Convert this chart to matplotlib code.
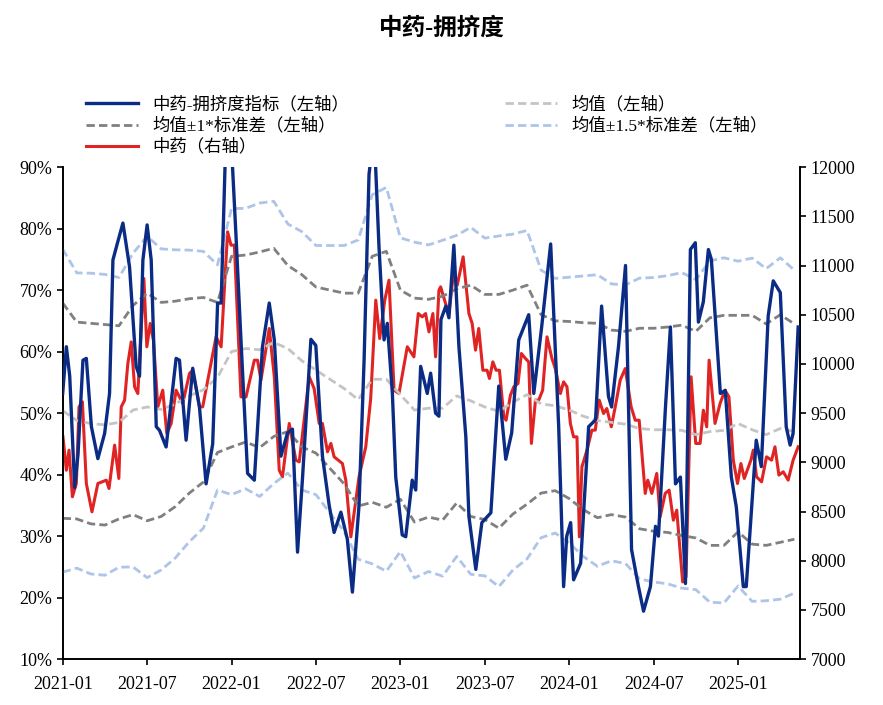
import matplotlib.pyplot as plt
import numpy as np
from matplotlib.ticker import FuncFormatter

plt.rcParams["font.family"] = ["Liberation Serif", "Noto Sans CJK SC"]

# x positions are months since 2021-01
idx_month = [0, 0.26, 0.5, 0.85, 1.09, 1.44, 1.68, 2.04, 2.5, 2.98, 3.33, 3.57, 3.92, 4.28, 4.75, 5.22,
             5.46, 5.7, 6.0, 6.29, 6.65, 6.88, 7.35, 8.06, 8.3, 8.77, 9.24, 9.72, 10.19, 10.66, 11.01,
             11.26, 11.61, 11.96, 12.32, 12.67, 13.14, 13.62, 14.2, 14.68, 15.04, 15.51, 15.98, 16.33,
             16.69, 17.04, 17.64, 17.99, 18.46, 18.94, 19.29, 19.77, 20.23, 20.59, 21.06, 21.42, 21.77,
             22.13, 22.48, 22.84, 23.07, 23.43, 23.67, 24.13, 24.38, 24.84, 25.09, 25.44, 25.91, 26.15,
             26.5, 26.74, 26.88, 27.23, 27.45, 27.8, 28.16, 28.65, 28.87, 29.36, 29.79, 30.43, 30.99,
             31.49, 31.91, 32.41, 33.12, 33.48, 34.04, 34.68, 35.25, 35.6, 35.82, 36.1, 36.31, 36.81,
             37.38, 37.87, 38.3, 38.79, 39.01, 39.5, 40.0, 40.43, 40.92, 41.28, 41.77, 42.13, 42.34,
             42.84, 43.19, 43.55, 43.9, 44.26, 44.61, 44.96, 45.18, 45.53, 45.89, 46.1, 46.74, 47.09,
             47.52, 47.87, 48.37, 48.58, 49.29, 49.65, 50.14, 50.5, 51.0, 51.42, 51.7, 51.91, 52.27]
idx_value = [53.2, 60.8, 56.0, 37.9, 43.3, 58.6, 58.9, 47.8, 42.6, 46.7, 53.2, 74.9, 77.9, 80.9, 73.8,
             57.6, 56.0, 74.9, 80.6, 74.9, 47.8, 47.2, 44.5, 58.9, 58.6, 45.6, 57.3, 51.0, 38.5, 45.0,
             67.9, 67.9, 96.0, 95.0, 78.7, 61.9, 40.2, 39.1, 60.8, 67.9, 61.9, 43.0, 46.8, 47.4, 27.4,
             39.3, 62.0, 61.0, 43.0, 35.0, 30.6, 33.9, 29.5, 20.9, 35.0, 58.6, 88.8, 96.0, 77.0, 61.9,
             64.6, 53.2, 39.6, 30.2, 29.9, 39.1, 37.5, 57.6, 53.2, 56.5, 50.0, 49.5, 65.2, 67.4, 65.5,
             77.3, 60.8, 46.2, 33.2, 24.6, 32.2, 33.8, 54.4, 42.5, 46.8, 61.9, 66.0, 53.2, 64.0, 77.5,
             47.8, 21.8, 30.0, 32.2, 22.9, 25.6, 47.8, 48.9, 67.4, 52.7, 51.0, 60.8, 74.0, 27.8, 21.8,
             17.8, 21.8, 31.6, 30.0, 51.0, 64.0, 38.5, 39.6, 22.3, 76.6, 77.7, 64.8, 68.1, 76.6, 75.0,
             53.2, 53.7, 39.6, 34.8, 21.8, 21.8, 45.6, 41.3, 65.8, 71.5, 69.6, 47.8, 44.8, 46.7, 64.0]

price_month = [0.02, 0.26, 0.45, 0.69, 0.97, 1.16, 1.4, 1.68, 2.08, 2.5, 3.1, 3.29, 3.69, 3.99, 4.16,
               4.4, 4.63, 4.87, 5.11, 5.34, 5.77, 5.98, 6.22, 6.45, 6.76, 7.11, 7.4, 7.71, 8.06, 8.53,
               9.01, 9.24, 9.72, 9.95, 10.31, 10.9, 11.26, 11.72, 11.96, 12.2, 12.67, 13.03, 13.62,
               13.85, 14.09, 14.68, 15.04, 15.39, 15.62, 16.1, 16.57, 16.81, 17.52, 17.87, 18.23, 18.46,
               18.82, 19.06, 19.29, 19.88, 20.12, 20.48, 21.06, 21.54, 21.89, 22.25, 22.53, 22.89, 23.19,
               23.55, 23.9, 24.49, 24.96, 25.27, 25.55, 25.79, 26.03, 26.31, 26.5, 26.74, 26.86, 27.21,
               27.45, 27.8, 28.04, 28.46, 28.87, 29.1, 29.34, 29.57, 29.86, 30.16, 30.33, 30.57, 30.8,
               31.04, 31.35, 31.51, 31.82, 32.06, 32.36, 32.6, 32.89, 33.12, 33.31, 33.6, 33.83, 34.11,
               34.42, 34.77, 35.01, 35.37, 35.6, 35.84, 36.08, 36.31, 36.55, 36.72, 36.9, 37.26, 37.61,
               37.85, 38.13, 38.44, 38.67, 38.99, 39.27, 39.62, 39.98, 40.4, 40.69, 40.97, 41.4, 41.58,
               41.87, 42.22, 42.46, 42.82, 43.1, 43.4, 43.64, 44.06, 44.3, 44.66, 44.99, 45.3, 45.53,
               45.77, 45.94, 46.36, 46.72, 47.07, 47.35, 47.66, 47.96, 48.2, 48.44, 48.91, 49.08, 49.31,
               49.67, 50.02, 50.38, 50.62, 50.9, 51.21, 51.56, 51.91, 52.27]
price_value = [9259, 8920, 9124, 8650, 8785, 9564, 9615, 8785, 8497, 8785, 8819, 8734, 9175, 8836, 9564,
               9632, 10004, 10224, 9767, 9699, 10868, 10174, 10411, 10241, 9564, 9733, 9293, 9395, 9733,
               9598, 9903, 9936, 9564, 9564, 9835, 10275, 10174, 11342, 11207, 11207, 9665, 9665, 10038,
               10038, 9835, 10360, 9869, 8920, 8853, 9395, 9022, 9005, 9869, 9750, 9395, 9395, 9107,
               9192, 9056, 8988, 8819, 8243, 8853, 9158, 9648, 10648, 10258, 10648, 10851, 9733, 9699,
               10174, 10072, 10512, 10478, 10512, 10326, 10512, 10072, 10749, 10783, 10614, 10512, 10953,
               10800, 11088, 10512, 10411, 10140, 10360, 9936, 9936, 9852, 10021, 9936, 9936, 9462, 9428,
               9682, 9767, 9801, 10106, 10055, 10021, 9192, 9632, 9632, 9733, 10275, 10055, 9953, 9699,
               9818, 9767, 9395, 9259, 9259, 8243, 8954, 9124, 9327, 9327, 9632, 9496, 9547, 9361, 9564,
               9835, 9953, 9564, 9428, 9428, 8684, 8819, 8684, 8887, 8446, 8684, 8718, 8412, 8514, 7785,
               7836, 9869, 9192, 9192, 9530, 9361, 10038, 9395, 9598, 9733, 9665, 9022, 8785, 8988, 8836,
               9022, 9124, 8853, 8802, 9056, 9022, 9158, 8870, 8904, 8819, 9022, 9158]

band_month = list(range(53))
mean_value = [50.4, 48.8, 48.3, 48.1, 48.5, 50.5, 51.0, 50.6, 51.5, 52.8, 53.8, 55.8, 60.0, 60.5, 60.3,
              61.5, 60.5, 58.5, 57.0, 55.5, 54.0, 52.2, 55.5, 55.5, 53.0, 50.5, 50.8, 50.8, 52.8, 52.0,
              51.0, 50.3, 51.8, 53.0, 51.5, 51.2, 50.5, 49.5, 48.8, 48.5, 48.2, 47.5, 47.3, 47.3, 47.2,
              46.5, 47.0, 47.2, 48.3, 47.3, 46.5, 47.5, 47.0]
upper1_value = [67.9, 64.8, 64.6, 64.4, 64.2, 67.5, 69.5, 68.0, 68.2, 68.6, 68.8, 68.0, 75.5, 75.7, 76.2,
                76.8, 74.0, 72.5, 70.5, 70.0, 69.5, 69.5, 75.5, 76.3, 70.0, 68.7, 68.5, 69.0, 70.2, 70.8,
                69.3, 69.3, 70.0, 70.8, 66.0, 65.0, 64.9, 64.7, 64.6, 63.5, 63.3, 63.8, 63.8, 64.0, 64.3,
                63.3, 65.5, 65.9, 65.9, 65.9, 64.5, 66.0, 64.5]

tick_month = [0, 6, 12, 18, 24, 30, 36, 42, 48]
tick_label = ["2021-01", "2021-07", "2022-01", "2022-07", "2023-01",
              "2023-07", "2024-01", "2024-07", "2025-01"]

mean = np.array(mean_value)
std = np.array(upper1_value) - mean

fig = plt.figure(figsize=(8.83, 7.05), dpi=100)
ax = fig.add_axes([0.071, 0.065, 0.835, 0.698])
ax2 = ax.twinx()

dash = (0, (3, 1.5))
l1, = ax.plot(idx_month, idx_value, color="#0b2c85", lw=2.4, label="中药-拥挤度指标（左轴）", zorder=5)
l2, = ax.plot(band_month, mean + std, color="#808080", lw=2, ls=dash, label="均值±1*标准差（左轴）")
ax.plot(band_month, mean - std, color="#808080", lw=2, ls=dash)
l4, = ax.plot(band_month, mean, color="#c4c4c4", lw=2, ls=dash, label="均值（左轴）")
l5, = ax.plot(band_month, mean + 1.5 * std, color="#aec4e8", lw=2, ls=dash, label="均值±1.5*标准差（左轴）")
ax.plot(band_month, mean - 1.5 * std, color="#aec4e8", lw=2, ls=dash)
l3, = ax2.plot(price_month, price_value, color="#e02424", lw=2.2, label="中药（右轴）")

ax.set_zorder(ax2.get_zorder() + 1)
ax.patch.set_visible(False)

ax.set_xlim(0, 52.4)
ax.set_ylim(10, 90)
ax2.set_ylim(7000, 12000)
ax.set_yticks(range(10, 91, 10))
ax.yaxis.set_major_formatter(FuncFormatter(lambda v, p: f"{v:.0f}%"))
ax2.set_yticks(range(7000, 12001, 500))
ax.set_xticks(tick_month)
ax.set_xticklabels(tick_label)
for a in (ax, ax2):
    a.tick_params(labelsize=13, direction="out", length=4, width=1.2)
    a.spines["top"].set_visible(False)
    for s in ("left", "bottom", "right"):
        a.spines[s].set_linewidth(1.2)
ax.tick_params(axis="x", pad=8)

fig.legend(handles=[l1, l2, l3, l4, l5], ncol=2, loc="upper left", bbox_to_anchor=(0.08, 0.885),
           frameon=False, fontsize=12.5, handlelength=3, columnspacing=9, labelspacing=0.25)
fig.suptitle("中药-拥挤度", y=0.975, fontsize=17, fontweight="bold")

fig.savefig("out.png", dpi=100)
